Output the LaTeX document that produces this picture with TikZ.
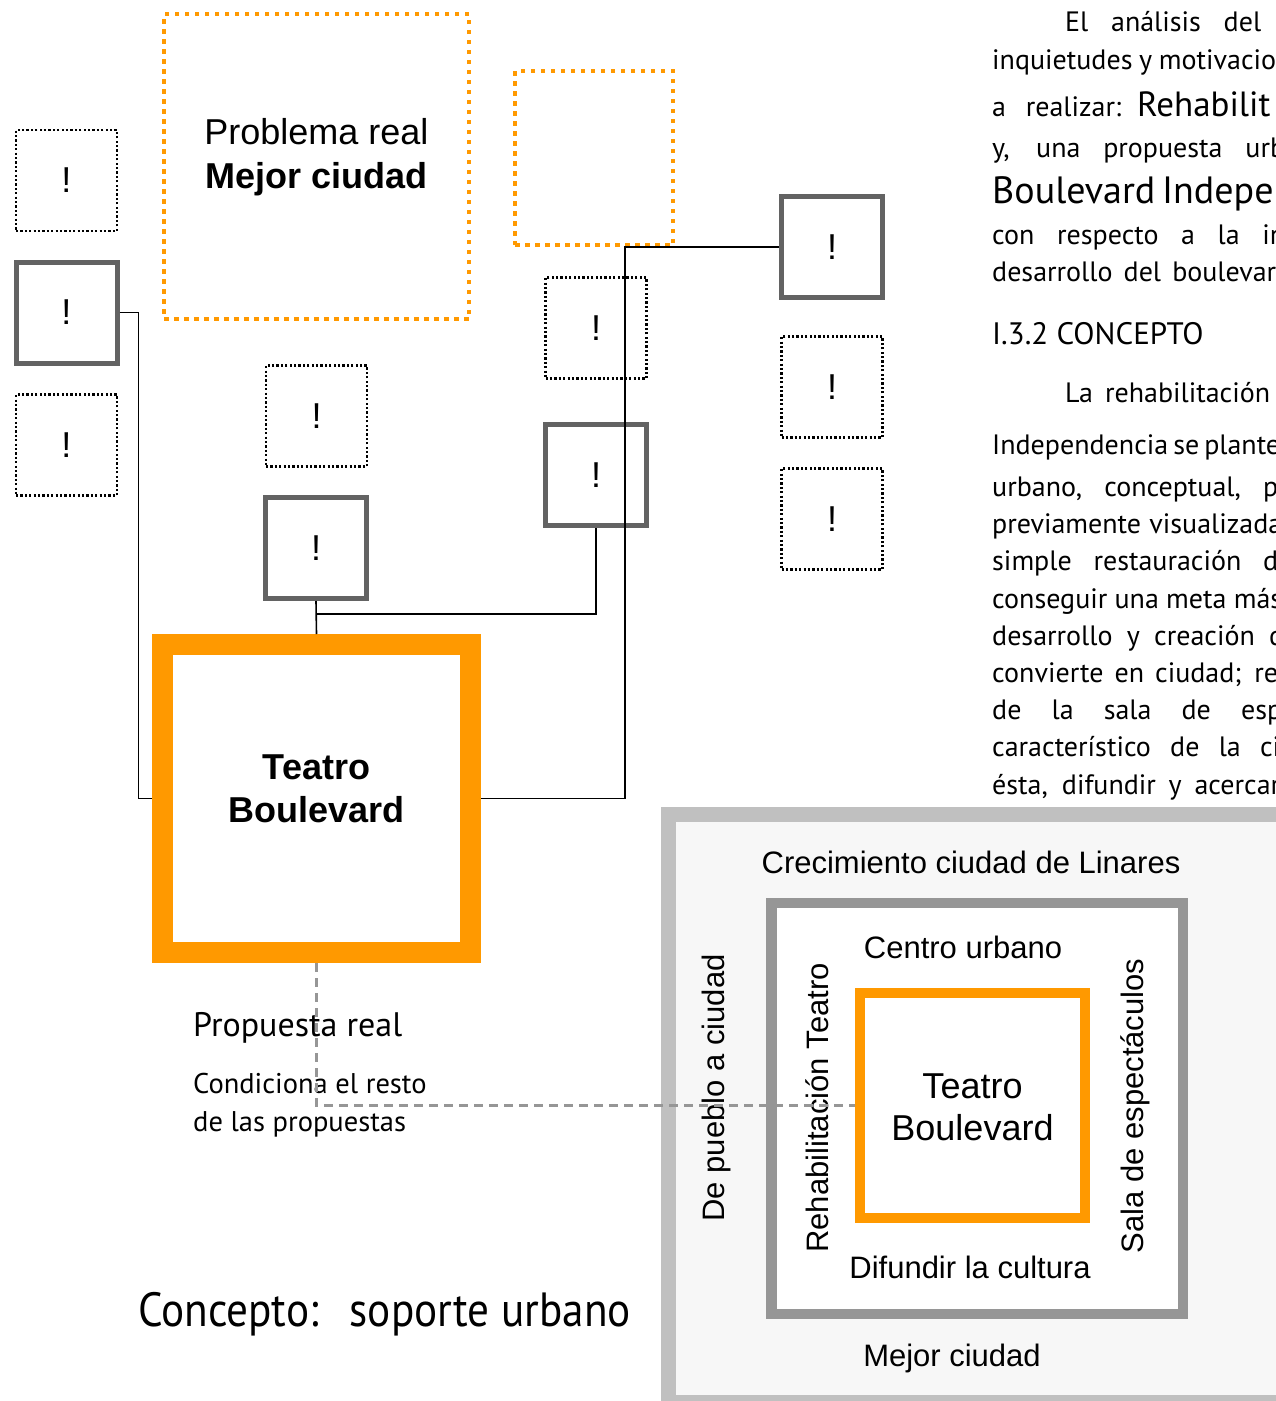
\documentclass[tikz,border=0pt]{standalone}
\usepackage{fontspec}
\setmainfont{Liberation Sans}
\newfontfamily\din{PT Sans}
\newfontfamily\dinc[FakeStretch=0.9]{PT Sans}
\usetikzlibrary{calc}
\definecolor{orng}{RGB}{255,153,0}
\definecolor{dgray}{RGB}{99,99,99}
\definecolor{mgray}{RGB}{150,150,150}
\definecolor{lgray}{RGB}{192,192,192}
\definecolor{pale}{RGB}{247,247,247}
\definecolor{dashg}{RGB}{150,150,150}
\begin{document}
\begin{tikzpicture}[x=1pt,y=-1pt,
  dotbox/.style={draw=black, line width=2.2pt, dash pattern=on 2.2pt off 2.2pt, minimum width=101pt, minimum height=101pt, inner sep=0pt, outer sep=1pt, font=\fontsize{36}{40}\selectfont},
  graybox/.style={draw=dgray, line width=5pt, minimum width=101pt, minimum height=101pt, inner sep=0pt, outer sep=2.5pt, font=\fontsize{36}{40}\selectfont},
  orangedot/.style={draw=orng, line width=4.5pt, dash pattern=on 4.5pt off 5.5pt, inner sep=0pt, outer sep=2.25pt},
  link/.style={draw=black, line width=1.6pt},
  dashlink/.style={draw=dashg, line width=2.5pt, dash pattern=on 9pt off 6pt},
  body/.style={anchor=base west, inner sep=0pt, font=\din\fontsize{28}{32}\selectfont},
  bigbody/.style={anchor=base west, inner sep=0pt, font=\din\fontsize{38}{42}\selectfont},
  arial/.style={inner sep=0pt, font=\fontsize{31}{36}\selectfont},
]
\useasboundingbox (0,0) rectangle (1276,1401);

% ---------- top left orange dotted box ----------
\node[orangedot, minimum width=305pt, minimum height=305pt] (P) at (316.5,166.5) {};
\node[inner sep=0pt, align=center, font=\fontsize{36}{44}\selectfont] (Ptxt) at (316.5,157) {Problema real\\\textbf{Mejor ciudad}};

% ---------- left column ----------
\node[dotbox] (L1) at (66.5,180.5) {!};
\node[graybox] (L2) at (66.5,312.5) {!};
\node[dotbox] (L3) at (66.5,445) {!};

% ---------- centre column ----------
\node[dotbox] (C1) at (316.5,416) {!};
\node[graybox] (C2) at (316,548) {!};
\node[draw=orng, line width=21pt, minimum width=308pt, minimum height=308pt, inner sep=0pt, outer sep=10.5pt] (T) at (316.5,798.5) {};
\node[inner sep=0pt, align=center, font=\bfseries\fontsize{36}{43}\selectfont] (Ttxt) at (316.5,789) {Teatro\\Boulevard};

% ---------- middle right column ----------
\node[orangedot, minimum width=158pt, minimum height=174pt] (O2) at (594,158) {};
\node[dotbox] (M1) at (596,328) {!};
\node[graybox] (M2) at (596,475) {!};

% ---------- right column ----------
\node[graybox] (R1) at (832,247) {!};
\node[dotbox] (R2) at (832,387) {!};
\node[dotbox] (R3) at (832,519) {!};

% ---------- connectors ----------
\draw[link] (L2.east) -- ++(19,0) |- (T.west);
\draw[link] (C2.south) -- (T.north);
\coordinate (j1) at (316,614);
\draw[link] (j1) -| (M2.south);
\coordinate (k1) at (625,247);
\draw[link] (T.east) -| (k1) -- (R1.west);

% ---------- left texts ----------
\node[anchor=base west, inner sep=0pt, font=\din\fontsize{34}{38}\selectfont] (pr) at (193,1036) {Propuesta real};
\node[anchor=base west, inner sep=0pt, font=\din\fontsize{28.5}{32}\selectfont] (cr) at (193,1093) {Condiciona el resto};
\node[anchor=base west, inner sep=0pt, font=\din\fontsize{28.5}{32}\selectfont] (dl) at (193,1131) {de las propuestas};
\node[anchor=base west, inner sep=0pt, font=\dinc\fontsize{48}{52}\selectfont] (cs) at (138,1326) {Concepto:\ \ \,soporte urbano};

% ---------- right panel ----------
\node[draw=lgray, fill=pale, line width=15pt, minimum width=652pt, minimum height=588pt, inner sep=0pt] (Out) at (994.5,1108.5) {};
\node[draw=mgray, fill=white, line width=10.5pt, minimum width=411.5pt, minimum height=411pt, inner sep=0pt] (Mid) at (977.25,1108.5) {};
\node[draw=orng, fill=white, line width=10pt, minimum width=225pt, minimum height=225pt, inner sep=0pt, outer sep=5pt] (I) at (972.5,1105.5) {};
\node[inner sep=0pt, align=center, font=\fontsize{36}{42}\selectfont] (Itxt) at (972.5,1107) {Teatro\\Boulevard};
\node[arial] (cre) at (971,862) {Crecimiento ciudad de Linares};
\node[arial] (cen) at (963,947) {Centro urbano};
\node[arial] (dif) at (970,1267) {Difundir la cultura};
\node[arial] (mej) at (952,1358) {Mejor ciudad};
\node[arial, rotate=90] (dep) at (716,1088) {De pueblo a ciudad};
\node[arial, rotate=90] (reh) at (817,1108) {Rehabilitación Teatro};
\node[arial, rotate=90] (sal) at (1135,1106) {Sala de espectáculos};

\draw[dashlink] (T.south) |- (I.west);

% ---------- right text column ----------
\node[body] (b1) at (1065,31) {\makebox[196pt][s]{El análisis del}};
\node[body] (b2) at (992,69) {\makebox[284pt][s]{inquietudes y motivacio}};
\node[body] (b3a) at (992,116) {\makebox[129pt][s]{a realizar:}};
\node[anchor=base west, inner sep=0pt, font=\din\fontsize{35}{40}\selectfont] (b3b) at (1137,116) {Rehabilit};
\node[body] (b4) at (992,157) {\makebox[293pt][s]{y, una propuesta urb}};
\node[bigbody] (b5) at (992,203) {\makebox[290pt][s]{Boulevard Indepen}};
\node[body] (b6) at (992,244) {\makebox[293pt][s]{con respecto a la in}};
\node[body] (b7) at (992,281) {\makebox[284pt][s]{desarrollo del boulevar}};
\node[anchor=base west, inner sep=0pt, font=\din\fontsize{31}{36}\selectfont] (b8) at (992,344) {I.3.2 CONCEPTO};
\node[body] (b9) at (1065,402) {\makebox[205pt][s]{La rehabilitación}};
\node[body] (b10) at (992,454) {\makebox[288pt][s]{Independencia se plante}};
\node[body] (b11) at (992,496) {\makebox[286pt][s]{urbano, conceptual, p}};
\node[body] (b12) at (992,533) {\makebox[290pt][s]{previamente visualizada}};
\node[body] (b13) at (992,570) {\makebox[286pt][s]{simple restauración d}};
\node[body] (b14) at (992,608) {\makebox[290pt][s]{conseguir una meta más}};
\node[body] (b15) at (992,645) {\makebox[292pt][s]{desarrollo y creación d}};
\node[body] (b16) at (992,682) {\makebox[286pt][s]{convierte en ciudad; re}};
\node[body] (b17) at (992,719) {\makebox[290pt][s]{de la sala de esp}};
\node[body] (b18) at (992,756) {\makebox[288pt][s]{característico de la ci}};
\node[body] (b19) at (992,794) {\makebox[288pt][s]{ésta, difundir y acercar}};
\end{tikzpicture}
\end{document}
